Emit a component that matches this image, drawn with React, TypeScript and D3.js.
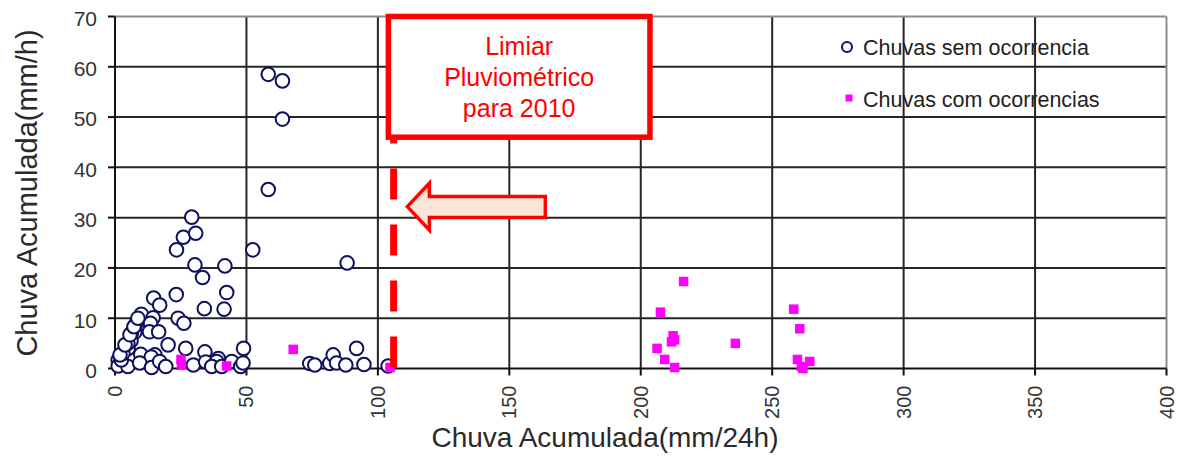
import React from "react";
import * as d3 from "d3";

// Rain events without landslide occurrences: [mm/24h, mm/h]
const semOcorrencia: [number, number][] = [
  [58.3, 58.5], [63.7, 57.2], [63.7, 49.6], [58.3, 35.6], [52.4, 23.6], [88.3, 21.0],
  [29.2, 30.1], [26.0, 26.1], [30.7, 26.9], [23.4, 23.6], [30.4, 20.6], [41.8, 20.4],
  [33.3, 18.1], [42.5, 15.1], [23.3, 14.7], [14.7, 14.0], [17.0, 12.6], [34.0, 11.9],
  [41.5, 11.8], [10.0, 10.8], [14.5, 10.1], [24.0, 10.0], [26.2, 9.0], [8.7, 8.5],
  [13.5, 9.0], [7.5, 7.2], [13.1, 7.3], [16.6, 7.3], [6.1, 5.5], [20.2, 4.7],
  [5.0, 4.0], [26.9, 4.0], [34.2, 3.3], [48.9, 4.0], [9.8, 2.8], [15.2, 2.7],
  [13.8, 2.3], [39.3, 2.0], [1.2, 1.7], [1.2, 0.5], [4.9, 0.4], [9.4, 1.1],
  [13.9, 0.2], [17.0, 1.4], [19.3, 0.4], [29.8, 0.7], [34.5, 1.3], [38.7, 1.4],
  [36.8, 0.4], [40.6, 0.4], [44.4, 1.4], [47.8, 0.4], [48.7, 1.1],
  [2.4, 1.7], [3.0, 3.0], [4.9, 5.0], [6.2, 7.0], [8.1, 9.0], [1.9, 2.7],
  [3.8, 4.7], [5.7, 6.7], [7.2, 8.3], [8.7, 10.0],
  [74.1, 1.0], [76.0, 0.7], [81.7, 1.0], [83.0, 2.7], [84.3, 1.1], [87.8, 0.7],
  [91.9, 4.0], [94.7, 0.8], [103.9, 0.5],
];

// Rain events with landslide occurrences: [mm/24h, mm/h]
const comOcorrencias: [number, number][] = [
  [25.1, 1.8], [25.3, 0.7], [42.5, 0.5], [67.8, 3.8], [104.6, 0.2],
  [216.3, 17.3], [207.5, 11.2], [212.3, 6.5], [212.9, 5.7], [211.7, 5.3],
  [206.2, 4.0], [209.1, 1.8], [212.9, 0.2], [236.0, 5.0], [258.2, 11.8],
  [260.5, 7.9], [259.6, 1.8], [261.1, 0.4], [264.3, 1.4], [261.7, 0.0],
];

const xTicks = [0, 50, 100, 150, 200, 250, 300, 350, 400];
const yTicks = [0, 10, 20, 30, 40, 50, 60, 70];
const limiar = 106;
const boxLines = ["Limiar", "Pluviométrico", "para 2010"];
const legendLabels = ["Chuvas sem ocorrencia", "Chuvas com ocorrencias"];

const W = 1183;
const H = 457;
const FONT = "'Liberation Sans', Arial, sans-serif";
const NAVY = "#10105e";
const MAGENTA = "#ff00ff";
const RED = "#ff0000";

export default function App() {
  const x = d3.scaleLinear().domain([0, 400]).range([115, 1166.5]);
  const y = d3.scaleLinear().domain([0, 70]).range([368.5, 16.5]);

  // annotation box and arrow in data units
  const bx0 = x(104), bx1 = x(203.5), by0 = y(70), by1 = y(46);
  const tipX = x(111.2), headX = x(119.6), tailX = x(163.7), ay = y(32.2);
  const arrow = [
    [tipX, ay],
    [headX, ay - 23.5],
    [headX, ay - 10],
    [tailX, ay - 10],
    [tailX, ay + 11],
    [headX, ay + 11],
    [headX, ay + 23.5],
  ];

  return (
    <svg
      width={W}
      height={H}
      style={{ position: "absolute", left: 0, top: 0, background: "#fff" }}
      fontFamily={FONT}
    >
      <rect x={0} y={0} width={W} height={H} fill="#fff" />
      {/* grid */}
      {yTicks.filter((t) => t > 0 && t < 70).map((t) => (
        <line key={"gy" + t} x1={x(0)} x2={x(400)} y1={y(t)} y2={y(t)} stroke="#262626" strokeWidth={2} />
      ))}
      {xTicks.filter((t) => t > 0 && t < 400).map((t) => (
        <line key={"gx" + t} x1={x(t)} x2={x(t)} y1={y(0)} y2={y(70)} stroke="#262626" strokeWidth={2} />
      ))}
      {/* plot border */}
      <line x1={x(0)} x2={x(400)} y1={y(70)} y2={y(70)} stroke="#8c8c8c" strokeWidth={2} />
      <line x1={x(400)} x2={x(400)} y1={y(0)} y2={y(70)} stroke="#8c8c8c" strokeWidth={2} />
      {/* axes */}
      <line x1={x(0)} x2={x(0)} y1={y(0)} y2={y(70)} stroke="#111" strokeWidth={2} />
      <line x1={x(0)} x2={x(400)} y1={y(0)} y2={y(0)} stroke="#111" strokeWidth={2} />
      {yTicks.map((t) => (
        <g key={"yt" + t}>
          <line x1={x(0) - 7} x2={x(0)} y1={y(t)} y2={y(t)} stroke="#111" strokeWidth={2} />
          <text x={97} y={y(t) + 2} dy="0.35em" textAnchor="end" fontSize={21} fill="#333">
            {t}
          </text>
        </g>
      ))}
      {xTicks.map((t) => (
        <g key={"xt" + t}>
          <line x1={x(t)} x2={x(t)} y1={y(0)} y2={y(0) + 7} stroke="#111" strokeWidth={2} />
          <text
            transform={`translate(${x(t)},${y(0) + 17}) rotate(-90)`}
            dy="0.35em"
            textAnchor="end"
            fontSize={20}
            fill="#333"
          >
            {t}
          </text>
        </g>
      ))}
      {/* axis titles */}
      <text x={605} y={447} textAnchor="middle" fontSize={28} fill="#2a2a2a">
        Chuva Acumulada(mm/24h)
      </text>
      <text
        transform={`translate(27,193) rotate(-90)`}
        dy="0.35em"
        textAnchor="middle"
        fontSize={29}
        fill="#2a2a2a"
      >
        Chuva Acumulada(mm/h)
      </text>

      {/* series */}
      {semOcorrencia.map(([a, b], i) => (
        <circle key={"s" + i} cx={x(a)} cy={y(b)} r={6.8} fill="#fff" stroke={NAVY} strokeWidth={2} />
      ))}
      {comOcorrencias.map(([a, b], i) => (
        <rect key={"c" + i} x={x(a) - 4.75} y={y(b) - 4.75} width={9.5} height={9.5} fill={MAGENTA} />
      ))}

      {/* threshold */}
      <line
        x1={x(limiar)}
        x2={x(limiar)}
        y1={y(0) - 1}
        y2={by1}
        stroke={RED}
        strokeWidth={7}
        strokeDasharray="31,25"
      />
      <rect x={bx0} y={by0} width={bx1 - bx0} height={by1 - by0} fill="#fff" stroke={RED} strokeWidth={5.5} />
      {boxLines.map((s, i) => (
        <text key={s} x={(bx0 + bx1) / 2} y={55 + i * 31} textAnchor="middle" fontSize={25} fill={RED}>
          {s}
        </text>
      ))}
      <polygon points={arrow.map((p) => p.join(",")).join(" ")} fill="#fbe5d6" stroke={RED} strokeWidth={3.5} />

      {/* legend */}
      <circle cx={847} cy={47} r={5} fill="#fff" stroke={NAVY} strokeWidth={2} />
      <text x={863} y={55} fontSize={21.5} fill="#222">
        {legendLabels[0]}
      </text>
      <rect x={845.5} y={94.5} width={7} height={7} fill={MAGENTA} />
      <text x={863} y={107} fontSize={21.5} fill="#222">
        {legendLabels[1]}
      </text>
    </svg>
  );
}
